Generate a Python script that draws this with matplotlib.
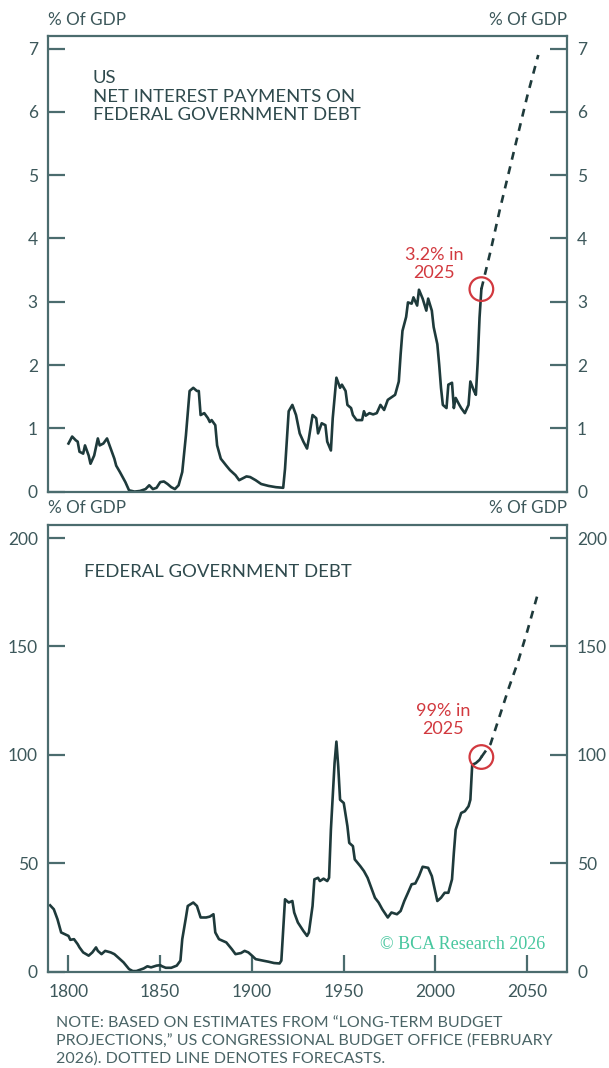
import matplotlib.pyplot as plt

plt.rcParams["font.family"] = ["Lato", "DejaVu Sans"]

# net interest payments, % of GDP
interest_years = [1800, 1802, 1804, 1805, 1806, 1808, 1809, 1811, 1812, 1814, 1816, 1817,
                  1819, 1821, 1823, 1825, 1826, 1828, 1831, 1833, 1836, 1839, 1842, 1844,
                  1846, 1848, 1850, 1852, 1854, 1856, 1858, 1860, 1862, 1864, 1866, 1868,
                  1870, 1871, 1872, 1874, 1876, 1877, 1878, 1880, 1881, 1883, 1886, 1888,
                  1891, 1893, 1895, 1897, 1899, 1902, 1905, 1909, 1913, 1917, 1918, 1920,
                  1922, 1924, 1926, 1928, 1930, 1931, 1933, 1935, 1936, 1938, 1940, 1941,
                  1943, 1944, 1946, 1948, 1949, 1951, 1952, 1954, 1955, 1957, 1960, 1961,
                  1962, 1964, 1966, 1968, 1970, 1972, 1974, 1976, 1978, 1980, 1981, 1982,
                  1984, 1985, 1987, 1988, 1990, 1991, 1993, 1995, 1996, 1998, 1999, 2001,
                  2002, 2003, 2004, 2006, 2007, 2009, 2010, 2011, 2013, 2014, 2016, 2018,
                  2019, 2021, 2022, 2023, 2024, 2025]
interest_vals = [0.76, 0.87, 0.81, 0.79, 0.63, 0.60, 0.73, 0.57, 0.44, 0.57, 0.84, 0.73,
                 0.76, 0.84, 0.68, 0.52, 0.41, 0.31, 0.15, 0.02, 0.00, 0.01, 0.04, 0.10,
                 0.04, 0.06, 0.15, 0.16, 0.12, 0.07, 0.04, 0.10, 0.31, 0.89, 1.59, 1.64,
                 1.59, 1.59, 1.21, 1.24, 1.16, 1.10, 1.13, 1.05, 0.73, 0.52, 0.41, 0.34,
                 0.26, 0.18, 0.21, 0.24, 0.23, 0.18, 0.12, 0.09, 0.07, 0.06, 0.36, 1.27,
                 1.37, 1.21, 0.92, 0.79, 0.68, 0.84, 1.21, 1.16, 0.92, 1.08, 1.05, 0.79,
                 0.65, 1.16, 1.80, 1.64, 1.69, 1.59, 1.37, 1.32, 1.21, 1.13, 1.13, 1.27,
                 1.20, 1.24, 1.22, 1.24, 1.37, 1.29, 1.45, 1.49, 1.53, 1.74, 2.17, 2.54,
                 2.76, 2.99, 2.97, 3.07, 2.94, 3.19, 3.05, 2.86, 3.05, 2.86, 2.60, 2.33,
                 2.01, 1.64, 1.37, 1.32, 1.69, 1.72, 1.32, 1.48, 1.37, 1.32, 1.24, 1.37,
                 1.74, 1.59, 1.53, 2.05, 2.75, 3.20]
interest_fc_years = [2025, 2030, 2035, 2040, 2045, 2050, 2056]
interest_fc_vals = [3.2, 3.8, 4.45, 5.05, 5.65, 6.25, 6.9]

# federal government debt, % of GDP
debt_years = [1790, 1792, 1794, 1796, 1798, 1800, 1801, 1803, 1805, 1806, 1808, 1811,
              1813, 1815, 1816, 1818, 1820, 1823, 1825, 1827, 1830, 1833, 1835, 1837,
              1839, 1841, 1843, 1845, 1848, 1850, 1851, 1853, 1856, 1859, 1861, 1862,
              1864, 1865, 1868, 1870, 1872, 1875, 1877, 1879, 1880, 1882, 1886, 1889,
              1891, 1894, 1896, 1898, 1900, 1902, 1906, 1909, 1912, 1915, 1916, 1918,
              1920, 1922, 1923, 1925, 1928, 1930, 1931, 1933, 1934, 1936, 1937, 1939,
              1941, 1942, 1943, 1945, 1946, 1947, 1948, 1950, 1952, 1953, 1955, 1956,
              1959, 1961, 1963, 1965, 1967, 1969, 1971, 1974, 1976, 1979, 1981, 1983,
              1985, 1987, 1989, 1991, 1993, 1996, 1998, 2000, 2001, 2003, 2005, 2007,
              2009, 2010, 2011, 2014, 2016, 2018, 2019, 2020, 2022, 2024, 2025]
debt_vals = [30.6, 28.8, 24.2, 18.1, 17.3, 16.5, 14.7, 15.0, 12.7, 11.2, 8.9, 7.4,
             8.9, 11.2, 9.6, 8.1, 9.6, 8.9, 8.1, 6.6, 4.3, 1.2, 0.3, 0.3,
             0.9, 1.5, 2.5, 2.0, 2.8, 3.0, 2.5, 1.8, 1.8, 2.8, 5.1, 15.0,
             25.0, 30.3, 31.9, 30.3, 25.0, 25.0, 25.4, 26.5, 18.1, 15.0, 13.5, 10.4,
             8.1, 8.6, 9.6, 8.9, 7.4, 5.8, 5.1, 4.6, 4.0, 3.8, 5.1, 33.4,
             31.9, 32.6, 27.3, 22.7, 18.8, 16.5, 18.1, 30.3, 42.6, 43.3, 41.8, 42.9,
             41.8, 43.3, 65.5, 96.2, 106.1, 94.6, 79.3, 77.8, 67.1, 59.4, 57.9, 51.8,
             48.7, 46.4, 43.3, 38.7, 34.1, 31.9, 28.8, 25.0, 27.3, 26.5, 28.0, 32.6,
             36.4, 40.3, 40.7, 44.1, 48.4, 47.9, 44.1, 36.4, 32.6, 34.1, 36.4, 36.4,
             42.6, 54.8, 65.5, 73.2, 74.0, 76.3, 79.3, 95.4, 96.2, 97.7, 99.0]
debt_fc_years = [2025, 2030, 2035, 2040, 2045, 2050, 2056]
debt_fc_vals = [99, 105, 118, 131, 143, 157, 175]

x_ticks = [1800, 1850, 1900, 1950, 2000, 2050]
interest_ticks = [0, 1, 2, 3, 4, 5, 6, 7]
debt_ticks = [0, 50, 100, 150, 200]

LINE = "#1e3a3b"
SPINE = "#4b6c6e"
TEXT = "#3d585b"
RED = "#d2393f"
MINT = "#48c79f"

W, H = 609, 1068
fig = plt.figure(figsize=(W / 100, H / 100), dpi=100)
ax1 = fig.add_axes([48.3 / W, 1 - 491.6 / H, 518.4 / W, 455.6 / H])
ax2 = fig.add_axes([48.3 / W, 1 - 971.7 / H, 518.4 / W, 446.7 / H])


def style(ax, yticks, ytop, unit_y):
    ax.set_xlim(1789, 2071.5)
    ax.set_ylim(0, ytop)
    ax.set_yticks(yticks)
    for s in ax.spines.values():
        s.set_color(SPINE)
        s.set_linewidth(1.6)
    ax.tick_params(axis="y", direction="in", length=12, width=1.6, color=SPINE,
                   left=True, right=True, labelleft=True, labelright=True,
                   labelcolor=TEXT, labelsize=12.5, pad=7.5)
    ax.text(0, unit_y, "% Of GDP", transform=ax.transAxes, ha="left", va="center",
            color=TEXT, fontsize=12.3)
    ax.text(1, unit_y, "% Of GDP", transform=ax.transAxes, ha="right", va="center",
            color=TEXT, fontsize=12.3)


style(ax1, interest_ticks, 7.2, 1.035)
style(ax2, debt_ticks, 206, 1.037)

ax1.set_xticks([])
ax2.set_xticks(x_ticks)
ax2.tick_params(axis="x", direction="in", length=12, width=1.6, color=SPINE,
                labelcolor=TEXT, labelsize=12.5, pad=9)

# history and projections
ax1.plot(interest_years, interest_vals, color=LINE, lw=1.9, solid_joinstyle="round")
ax1.plot(interest_fc_years, interest_fc_vals, color=LINE, lw=1.9,
         linestyle=(0, (3.0, 2.6)))
ax2.plot(debt_years, debt_vals, color=LINE, lw=1.9, solid_joinstyle="round")
ax2.plot(debt_fc_years, debt_fc_vals, color=LINE, lw=1.9,
         linestyle=(0, (3.0, 2.6)))

# highlight the latest reading
ax1.scatter([interest_years[-1]], [interest_vals[-1]], s=290, facecolors="none",
            edgecolors=RED, linewidths=1.6, zorder=5)
ax2.scatter([debt_years[-1]], [debt_vals[-1]], s=290, facecolors="none",
            edgecolors=RED, linewidths=1.6, zorder=5)
ax1.text(1999.3, 3.6, f"{interest_vals[-1]:.1f}% in\n{interest_years[-1]}",
         ha="center", va="center", color=RED, fontsize=13, linespacing=1.2)
ax2.text(2004, 116, f"{debt_vals[-1]:.0f}% in\n{debt_years[-1]}",
         ha="center", va="center", color=RED, fontsize=13, linespacing=1.2)

ax1.text(0.086, 0.925, "US\nNET INTEREST PAYMENTS ON\nFEDERAL GOVERNMENT DEBT",
         transform=ax1.transAxes, ha="left", va="top", color="#2f4a4d",
         fontsize=13.3, linespacing=1.2)
ax2.text(0.068, 0.912, "FEDERAL GOVERNMENT DEBT", transform=ax2.transAxes,
         ha="left", va="top", color="#2f4a4d", fontsize=13.3)

ax2.text(0.958, 0.06, "\u00a9 BCA Research 2026", transform=ax2.transAxes,
         ha="right", va="center", color=MINT, fontsize=13,
         family=["Liberation Serif", "DejaVu Serif"])

fig.text(56 / W, 1 - 1016 / H,
         "NOTE: BASED ON ESTIMATES FROM \u201cLONG-TERM BUDGET\n"
         "PROJECTIONS,\u201d US CONGRESSIONAL BUDGET OFFICE (FEBRUARY\n"
         "2026). DOTTED LINE DENOTES FORECASTS.",
         ha="left", va="top", color="#4a6466", fontsize=11.5, linespacing=1.3)

fig.savefig("out.png", dpi=100)
